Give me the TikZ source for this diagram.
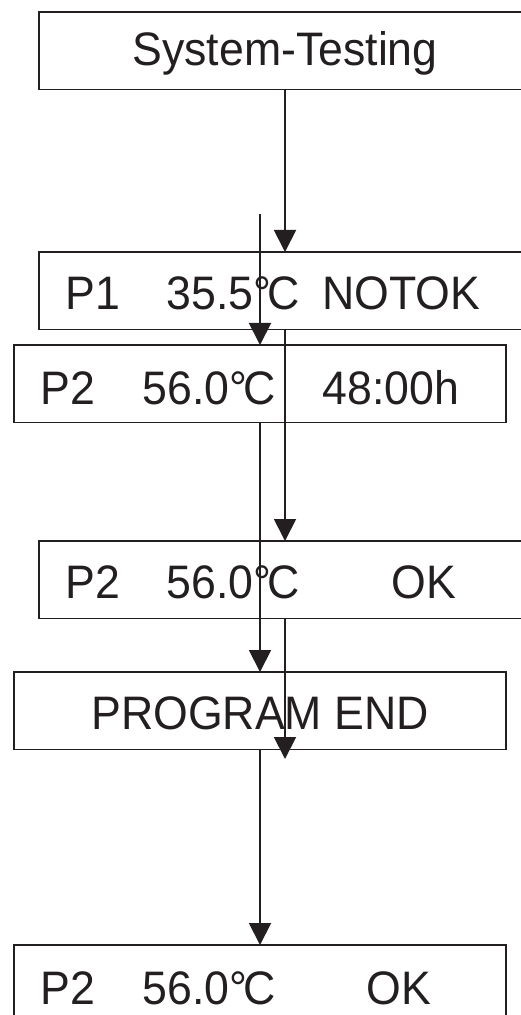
\documentclass[tikz,border=0pt]{standalone}
\usepackage{fontspec}
\setmainfont{Liberation Sans}[FakeStretch=0.95]
\usetikzlibrary{arrows.meta,positioning}
\definecolor{ink}{RGB}{35,31,32}
\newcommand{\degc}{°\kern-2pt C}

\begin{document}
\begin{tikzpicture}[x=0.5pt, y=-0.5pt, >={Triangle[width=11pt,length=11pt]},
    screen/.style={draw=ink, line width=0.95pt, rectangle, minimum width=246pt, minimum height=38.75pt, inner sep=0pt, outer sep=0pt, anchor=north west},
    txt/.style={anchor=base west, inner sep=0pt, text=ink, font=\fontsize{23.5pt}{28pt}\selectfont},
    ctxt/.style={txt, anchor=base},
    flow/.style={->, draw=ink, line width=0.95pt}]
    \useasboundingbox (0,0) rectangle (520,1015);

    % right-hand column
    \node[screen] (sys) at (39,12) {};
    \node[screen] (p1) at (39,252) {};
    \node[screen] (pok) at (39,541) {};
    % left-hand column
    \node[screen] (ptime) at (14,345) {};
    \node[screen] (pend) at (14,672) {};
    \node[screen] (plast) at (14,945) {};

    \node[ctxt] (sysT) at ([shift={(0,54)}]sys.north) {System-Testing};

    \node[txt] (p1N) at ([shift={(26,58)}]p1.north west) {P1};
    \node[txt] (p1T) at ([shift={(127,58)}]p1.north west) {35.5\degc};
    \node[txt] (p1S) at ([shift={(283,58)}]p1.north west) {NOTOK};

    \node[txt] (ptimeN) at ([shift={(26,59)}]ptime.north west) {P2};
    \node[txt] (ptimeT) at ([shift={(128,59)}]ptime.north west) {56.0\degc};
    \node[txt] (ptimeS) at ([shift={(308,59)}]ptime.north west) {48:00h};

    \node[txt] (pokN) at ([shift={(26,57)}]pok.north west) {P2};
    \node[txt] (pokT) at ([shift={(127,57)}]pok.north west) {56.0\degc};
    \node[txt] (pokS) at ([shift={(352,57)}]pok.north west) {OK};

    \node[ctxt] (pendT) at ([shift={(0,57)}]pend.north) {PROGRAM END};

    \node[txt] (plastN) at ([shift={(26,59)}]plast.north west) {P2};
    \node[txt] (plastT) at ([shift={(128,59)}]plast.north west) {56.0\degc};
    \node[txt] (plastS) at ([shift={(352,59)}]plast.north west) {OK};

    % free ends
    \coordinate (tapL) at (260,214);
    \coordinate (tipR) at (285,759);

    \draw[flow] (sys.south) -- (p1.north);
    \draw[flow] (p1.south) -- (pok.north);
    \draw[flow] (pok.south) -- (tipR);
    \draw[flow] (tapL) -- (ptime.north);
    \draw[flow] (ptime.south) -- (pend.north);
    \draw[flow] (pend.south) -- (plast.north);
\end{tikzpicture}
\end{document}
